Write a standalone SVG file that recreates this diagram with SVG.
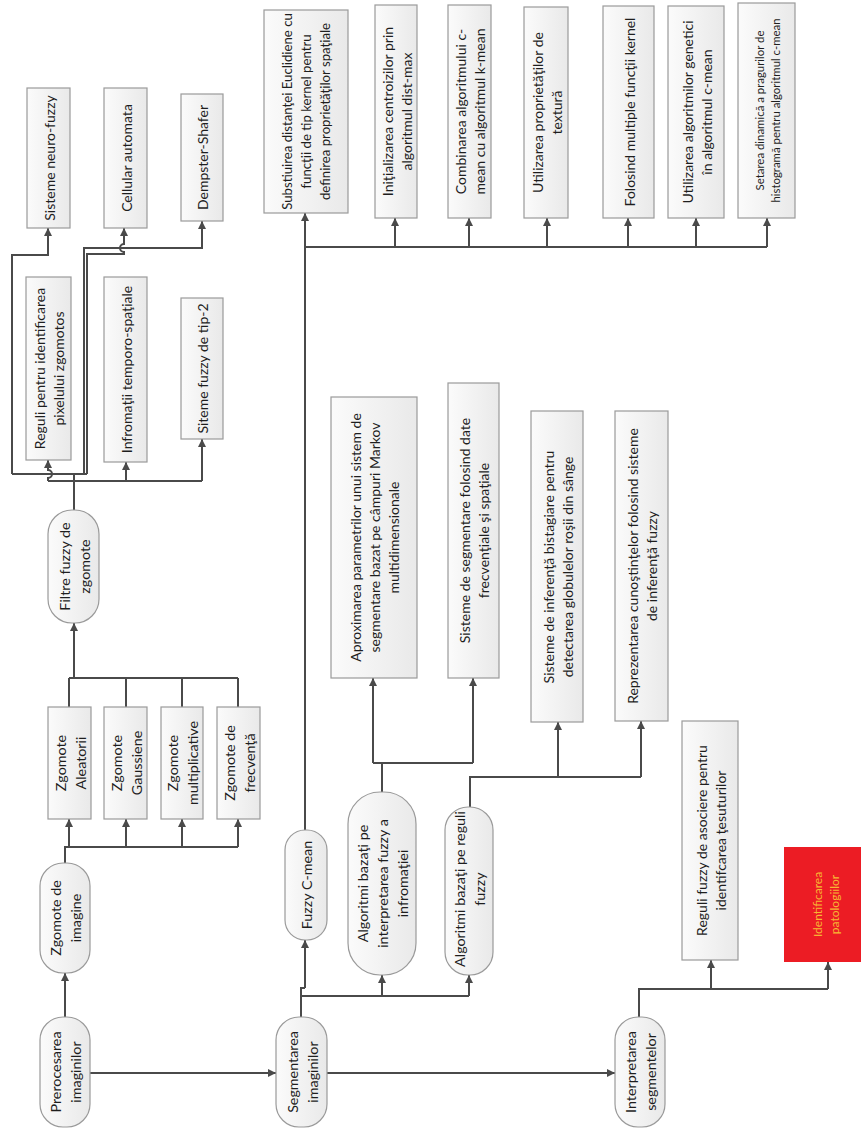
<svg xmlns="http://www.w3.org/2000/svg" width="861" height="1129" viewBox="0 0 861 1129">
<defs>
<linearGradient id="gb" x1="0" y1="0" x2="1" y2="0">
<stop offset="0" stop-color="#fbfbfb"/>
<stop offset="1" stop-color="#e9e9e9"/>
</linearGradient>
<marker id="ah" viewBox="0 0 10 10" refX="10" refY="5" markerWidth="8" markerHeight="8" markerUnits="userSpaceOnUse" orient="auto">
<path d="M0,0 L10,5 L0,10 z" fill="#4a4a4a"/>
</marker>
</defs>
<style>
.box{fill:url(#gb);stroke:#9a9a9a;stroke-width:1.2}
.t{font-family:Lato,"Open Sans",sans-serif;font-size:14px;fill:#1e1e1e;text-anchor:middle;dominant-baseline:central}
.tp{font-size:14.3px}
.ts{font-size:11.4px}
.tm{font-size:13.2px}
.c{fill:none;stroke:#4a4a4a;stroke-width:2}
.a{marker-end:url(#ah)}
</style>
<rect width="861" height="1129" fill="#ffffff"/>

<g id="connectors">
<path class="c a" d="M65,1017 V973"/>
<path class="c a" d="M90,1073 H276"/>
<path class="c a" d="M327,1073 H615"/>
<path class="c" d="M65,863 V847 H238"/>
<path class="c a" d="M69,847 V819"/>
<path class="c a" d="M126,847 V819"/>
<path class="c a" d="M182,847 V819"/>
<path class="c a" d="M238,847 V819"/>
<path class="c" d="M69,707 V678 M126,707 V678 M182,707 V678 M238,707 V678 M69,678 H238"/>
<path class="c a" d="M74,678 V623"/>
<path class="c" d="M74,510 V474 M12,474 H87 M48,481 H202"/>
<path class="c a" d="M48,481 V478 A4,4 0 0 0 48,470 V460"/>
<path class="c a" d="M126,481 V462"/>
<path class="c a" d="M202,481 V439"/>
<path class="c a" d="M12,474 V255 H48 V228"/>
<path class="c a" d="M84,474 V248 H202 V221"/>
<path class="c a" d="M87,474 V254 H124 V252 A4,4 0 0 1 124,244 V228"/>
<path class="c" d="M301,1017 V996 H469 M301,996 V988 H305"/>
<path class="c a" d="M305,988 V940"/>
<path class="c a" d="M382,996 V975"/>
<path class="c a" d="M469,996 V975"/>
<path class="c" d="M305,830 V247 H767"/>
<path class="c a" d="M305,247 V213"/>
<path class="c a" d="M395,247 V218"/>
<path class="c a" d="M469,247 V218"/>
<path class="c a" d="M547,247 V218"/>
<path class="c a" d="M628,247 V218"/>
<path class="c a" d="M696,247 V218"/>
<path class="c a" d="M767,247 V218"/>
<path class="c" d="M382,792 V763 M373,763 H473"/>
<path class="c a" d="M373,763 V678"/>
<path class="c a" d="M473,763 V678"/>
<path class="c" d="M470,807 V777 H641"/>
<path class="c a" d="M558,777 V722"/>
<path class="c a" d="M641,777 V721"/>
<path class="c" d="M639,1017 V989 H828"/>
<path class="c a" d="M711,989 V960"/>
<path class="c a" d="M828,989 V962"/>
</g>

<g id="n_neuro"><rect class="box" x="27" y="88" width="43" height="140"/>
<text class="t" transform="translate(48.5,158) rotate(-90)"><tspan x="0" y="0">Sisteme neuro-fuzzy</tspan></text></g>
<g id="n_cellular"><rect class="box" x="104" y="88" width="43" height="140"/>
<text class="t" transform="translate(125.5,158) rotate(-90)"><tspan x="0" y="0">Cellular automata</tspan></text></g>
<g id="n_dempster"><rect class="box" x="181" y="94" width="42" height="127"/>
<text class="t" transform="translate(202,157.5) rotate(-90)"><tspan x="0" y="0">Dempster-Shafer</tspan></text></g>
<g id="n_reguli_pixel"><rect class="box" x="26" y="277" width="45" height="183"/>
<text class="t" transform="translate(48.5,368.5) rotate(-90)"><tspan x="0" y="-9.5">Reguli pentru identificarea</tspan><tspan x="0" y="9.5">pixelului zgomotos</tspan></text></g>
<g id="n_infromatii"><rect class="box" x="104" y="277" width="43" height="185"/>
<text class="t" transform="translate(125.5,369.5) rotate(-90)"><tspan x="0" y="0">Infromaţii temporo-spaţiale</tspan></text></g>
<g id="n_siteme"><rect class="box" x="181" y="298" width="42" height="141"/>
<text class="t" transform="translate(202,368.5) rotate(-90)"><tspan x="0" y="0">Siteme fuzzy de tip-2</tspan></text></g>
<g id="n_filtre"><rect class="box" x="48" y="510" width="51" height="113" rx="24" ry="24"/>
<text class="t tp" transform="translate(73.5,566.5) rotate(-90)"><tspan x="0" y="-10">Filtre fuzzy de</tspan><tspan x="0" y="10">zgomote</tspan></text></g>
<g id="n_aleatorii"><rect class="box" x="48" y="707" width="43" height="112"/>
<text class="t tp" transform="translate(69.5,763) rotate(-90)"><tspan x="0" y="-10">Zgomote</tspan><tspan x="0" y="10">Aleatorii</tspan></text></g>
<g id="n_gaussiene"><rect class="box" x="104" y="707" width="43" height="112"/>
<text class="t tp" transform="translate(125.5,763) rotate(-90)"><tspan x="0" y="-10">Zgomote</tspan><tspan x="0" y="10">Gaussiene</tspan></text></g>
<g id="n_multiplicative"><rect class="box" x="161" y="707" width="42" height="112"/>
<text class="t tp" transform="translate(182,763) rotate(-90)"><tspan x="0" y="-10">Zgomote</tspan><tspan x="0" y="10">multiplicative</tspan></text></g>
<g id="n_frecventa"><rect class="box" x="217" y="707" width="43" height="112"/>
<text class="t tp" transform="translate(238.5,763) rotate(-90)"><tspan x="0" y="-10">Zgomote de</tspan><tspan x="0" y="10">frecvenţă</tspan></text></g>
<g id="n_zgomote_imagine"><rect class="box" x="40" y="863" width="50" height="110" rx="23" ry="23"/>
<text class="t tp" transform="translate(65,918) rotate(-90)"><tspan x="0" y="-10">Zgomote de</tspan><tspan x="0" y="10">imagine</tspan></text></g>
<g id="n_prerocesarea"><rect class="box" x="40" y="1017" width="50" height="110" rx="23" ry="23"/>
<text class="t tp" transform="translate(65,1072) rotate(-90)"><tspan x="0" y="-10">Prerocesarea</tspan><tspan x="0" y="10">imaginilor</tspan></text></g>
<g id="n_segmentarea"><rect class="box" x="276" y="1017" width="51" height="110" rx="23" ry="23"/>
<text class="t tp" transform="translate(301.5,1072) rotate(-90)"><tspan x="0" y="-10">Segmentarea</tspan><tspan x="0" y="10">imaginilor</tspan></text></g>
<g id="n_interpretarea"><rect class="box" x="615" y="1017" width="50" height="110" rx="23" ry="23"/>
<text class="t tp" transform="translate(640,1072) rotate(-90)"><tspan x="0" y="-10">Interpretarea</tspan><tspan x="0" y="10">segmentelor</tspan></text></g>
<g id="n_fuzzy_cmean"><rect class="box" x="285" y="830" width="42" height="110" rx="20" ry="20"/>
<text class="t tp" transform="translate(306,885) rotate(-90)"><tspan x="0" y="0">Fuzzy C-mean</tspan></text></g>
<g id="n_alg_interpretare"><rect class="box" x="348" y="792" width="68" height="183" rx="32" ry="32"/>
<text class="t tp" transform="translate(382,883.5) rotate(-90)"><tspan x="0" y="-20">Algoritmi bazaţi pe</tspan><tspan x="0" y="0">interpretarea fuzzy a</tspan><tspan x="0" y="20">infromaţiei</tspan></text></g>
<g id="n_alg_reguli"><rect class="box" x="445" y="807" width="48" height="168" rx="23" ry="23"/>
<text class="t tp" transform="translate(469,889) rotate(-90)"><tspan x="0" y="-10">Algoritmi bazaţi pe reguli</tspan><tspan x="0" y="10">fuzzy</tspan></text></g>

<g id="n_substiuirea"><rect class="box" x="264" y="10" width="84" height="203"/>
<text class="t tm" transform="translate(306,111.5) rotate(-90)"><tspan x="0" y="-19">Substiuirea distanţei Euclidiene cu</tspan><tspan x="0" y="0">funcţii de tip kernel pentru</tspan><tspan x="0" y="19">definirea proprietăţilor spaţiale</tspan></text></g>
<g id="n_initializarea"><rect class="box" x="375" y="5" width="42" height="213"/>
<text class="t" transform="translate(396,111.5) rotate(-90)"><tspan x="0" y="-9.5">Iniţializarea centroizilor prin</tspan><tspan x="0" y="9.5">algoritmul dist-max</tspan></text></g>
<g id="n_combinarea"><rect class="box" x="448" y="5" width="43" height="213"/>
<text class="t" transform="translate(469.5,111.5) rotate(-90)"><tspan x="0" y="-9.5">Combinarea algoritmului c-</tspan><tspan x="0" y="9.5">mean cu algoritmul k-mean</tspan></text></g>
<g id="n_textura"><rect class="box" x="524" y="7" width="44" height="211"/>
<text class="t" transform="translate(546,112.5) rotate(-90)"><tspan x="0" y="-9.5">Utilizarea proprietăţilor de</tspan><tspan x="0" y="9.5">textură</tspan></text></g>
<g id="n_kernel"><rect class="box" x="603" y="6" width="51" height="212"/>
<text class="t" transform="translate(628.5,112) rotate(-90)"><tspan x="0" y="0">Folosind multiple funcţii kernel</tspan></text></g>
<g id="n_genetici"><rect class="box" x="668" y="6" width="56" height="212"/>
<text class="t" transform="translate(696,112) rotate(-90)"><tspan x="0" y="-9.5">Utilizarea algoritmilor genetici</tspan><tspan x="0" y="9.5">în algoritmul c-mean</tspan></text></g>
<g id="n_setarea"><rect class="box" x="738" y="3" width="57" height="215"/>
<text class="t ts" transform="translate(766.5,110.5) rotate(-90)"><tspan x="0" y="-8">Setarea dinamică a pragurilor de</tspan><tspan x="0" y="8">histogramă pentru algoritmul c-mean</tspan></text></g>

<g id="n_aproximarea"><rect class="box" x="331" y="397" width="86" height="281"/>
<text class="t" transform="translate(374,537.5) rotate(-90)"><tspan x="0" y="-19">Aproximarea parametrilor unui sistem de</tspan><tspan x="0" y="0">segmentare bazat pe câmpuri Markov</tspan><tspan x="0" y="19">multidimensionale</tspan></text></g>
<g id="n_segm_date"><rect class="box" x="448" y="383" width="51" height="295"/>
<text class="t" transform="translate(473.5,530.5) rotate(-90)"><tspan x="0" y="-9.5">Sisteme de segmentare folosind date</tspan><tspan x="0" y="9.5">frecvenţiale şi spaţiale</tspan></text></g>
<g id="n_inferenta"><rect class="box" x="531" y="411" width="52" height="311"/>
<text class="t" transform="translate(557,567) rotate(-90)"><tspan x="0" y="-9.5">Sisteme de inferenţă bistagiare pentru</tspan><tspan x="0" y="9.5">detectarea globulelor roşii din sânge</tspan></text></g>
<g id="n_reprezentarea"><rect class="box" x="615" y="411" width="53" height="310"/>
<text class="t" transform="translate(641.5,566) rotate(-90)"><tspan x="0" y="-9.5">Reprezentarea cunoştinţelor folosind sisteme</tspan><tspan x="0" y="9.5">de inferenţă fuzzy</tspan></text></g>
<g id="n_reguli_tesuturi"><rect class="box" x="682" y="721" width="56" height="239"/>
<text class="t" transform="translate(710,840.5) rotate(-90)"><tspan x="0" y="-9.5">Reguli fuzzy de asociere pentru</tspan><tspan x="0" y="9.5">identifcarea ţesuturilor</tspan></text></g>
<g id="n_identificarea"><rect x="784" y="847" width="90" height="115" fill="#ec1c24"/>
<text class="t" style="font-size:12px;fill:#f7b733" transform="translate(825,904.5) rotate(-90)"><tspan x="0" y="-8.5">Identificarea</tspan><tspan x="0" y="8.5">patologiilor</tspan></text></g>
</svg>
